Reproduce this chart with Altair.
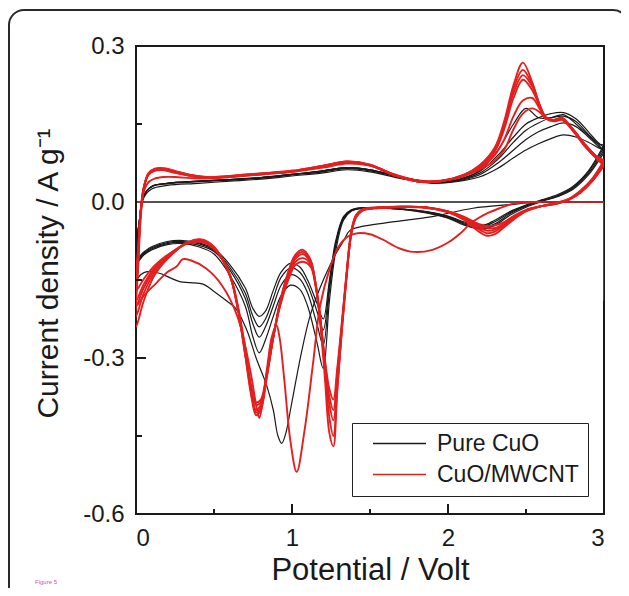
import altair as alt
import pandas as pd

MATERIALS = ["Pure CuO", "CuO/MWCNT"]
COLORS = ["#1a1a1a", "#e41f1f"]

# ---------------- Pure CuO ----------------
# cathodic sweep grid (3 V -> 0 V) shared by cycles 2-5
BC_X = [3.0, 2.9, 2.8, 2.7, 2.6, 2.5, 2.4, 2.3, 2.22, 2.1,
        2.0, 1.8, 1.6, 1.45, 1.38, 1.33, 1.28, 1.24, 1.2, 1.16,
        1.1, 1.05, 0.99, 0.93, 0.88, 0.83, 0.79, 0.75, 0.7, 0.6,
        0.5, 0.4, 0.3, 0.2, 0.1, 0.05, 0.0]
# anodic sweep grid (0 V -> 3 V)
BA_X = [0.0, 0.02, 0.05, 0.1, 0.2, 0.4, 0.6, 0.8, 1.0, 1.2,
        1.35, 1.5, 1.7, 1.9, 2.05, 2.2, 2.32, 2.42, 2.5, 2.58,
        2.66, 2.74, 2.82, 2.9, 2.96, 3.0]

B1C_X = [3.0, 2.8, 2.55, 2.4, 2.16, 1.9, 1.6, 1.45, 1.37, 1.33,
         1.28, 1.24, 1.18, 1.115, 1.06, 1.03, 0.99, 0.96, 0.934, 0.91,
         0.88, 0.84, 0.77, 0.71, 0.64, 0.58, 0.5, 0.43, 0.35, 0.28,
         0.22, 0.15, 0.07, 0.03, 0.0]
B1C_Y = [0.0, 0.0, -0.001, -0.005, -0.012, -0.028, -0.04, -0.047, -0.055, -0.075,
         -0.1, -0.124, -0.165, -0.22, -0.29, -0.336, -0.4, -0.445, -0.464, -0.45,
         -0.4, -0.355, -0.3, -0.246, -0.205, -0.19, -0.172, -0.158, -0.155, -0.153,
         -0.146, -0.137, -0.134, -0.14, -0.15]
B1A_Y = [-0.15, -0.05, 0.008, 0.025, 0.032, 0.036, 0.04, 0.044, 0.05, 0.056,
         0.062, 0.058, 0.045, 0.036, 0.039, 0.048, 0.065, 0.085, 0.1, 0.112,
         0.122, 0.129, 0.125, 0.115, 0.105, 0.1]

B2C_Y = [0.11, 0.06, 0.03, 0.014, 0.004, -0.006, -0.018, -0.035, -0.045, -0.038,
         -0.027, -0.016, -0.012, -0.012, -0.018, -0.035, -0.095, -0.19, -0.32, -0.27,
         -0.2, -0.168, -0.16, -0.18, -0.22, -0.265, -0.29, -0.26, -0.2, -0.14,
         -0.1, -0.086, -0.08, -0.082, -0.092, -0.102, -0.118]
B3C_Y = [0.105, 0.058, 0.028, 0.012, 0.003, -0.007, -0.02, -0.038, -0.047, -0.04,
         -0.028, -0.016, -0.012, -0.012, -0.017, -0.032, -0.085, -0.17, -0.275, -0.235,
         -0.175, -0.148, -0.14, -0.16, -0.2, -0.24, -0.26, -0.235, -0.185, -0.13,
         -0.095, -0.083, -0.078, -0.08, -0.09, -0.1, -0.115]
B4C_Y = [0.1, 0.055, 0.026, 0.011, 0.002, -0.008, -0.022, -0.042, -0.05, -0.042,
         -0.03, -0.017, -0.012, -0.011, -0.016, -0.03, -0.08, -0.16, -0.246, -0.21,
         -0.16, -0.135, -0.127, -0.145, -0.185, -0.225, -0.24, -0.22, -0.175, -0.125,
         -0.093, -0.08, -0.076, -0.078, -0.088, -0.098, -0.112]
B5C_Y = [0.095, 0.052, 0.024, 0.01, 0.001, -0.01, -0.025, -0.045, -0.052, -0.044,
         -0.031, -0.018, -0.012, -0.011, -0.015, -0.028, -0.075, -0.15, -0.225, -0.195,
         -0.15, -0.125, -0.118, -0.135, -0.17, -0.21, -0.22, -0.205, -0.165, -0.12,
         -0.09, -0.078, -0.074, -0.076, -0.086, -0.096, -0.11]

B2A_Y = [-0.118, -0.04, 0.012, 0.03, 0.036, 0.04, 0.043, 0.047, 0.053, 0.06,
         0.066, 0.062, 0.048, 0.038, 0.042, 0.06, 0.1, 0.15, 0.18, 0.162,
         0.162, 0.168, 0.15, 0.128, 0.112, 0.11]
B3A_Y = [-0.115, -0.04, 0.012, 0.03, 0.036, 0.04, 0.043, 0.047, 0.053, 0.06,
         0.066, 0.062, 0.048, 0.038, 0.042, 0.058, 0.09, 0.125, 0.15, 0.162,
         0.17, 0.172, 0.16, 0.135, 0.115, 0.105]
B4A_Y = [-0.112, -0.04, 0.012, 0.029, 0.035, 0.039, 0.042, 0.046, 0.052, 0.058,
         0.064, 0.06, 0.047, 0.037, 0.04, 0.052, 0.075, 0.1, 0.12, 0.135,
         0.145, 0.152, 0.145, 0.125, 0.108, 0.1]
B5A_Y = [-0.11, -0.04, 0.012, 0.03, 0.036, 0.04, 0.043, 0.047, 0.053, 0.06,
         0.066, 0.062, 0.048, 0.038, 0.041, 0.055, 0.082, 0.115, 0.138, 0.152,
         0.162, 0.165, 0.155, 0.13, 0.112, 0.095]

# ---------------- CuO/MWCNT ----------------
RC_X = [3.0, 2.92, 2.85, 2.78, 2.7, 2.6, 2.5, 2.42, 2.35, 2.3,
        2.25, 2.18, 2.1, 2.0, 1.85, 1.7, 1.55, 1.45, 1.41, 1.38,
        1.35, 1.32, 1.29, 1.265, 1.24, 1.21, 1.18, 1.15, 1.12, 1.07,
        1.02, 0.97, 0.92, 0.88, 0.84, 0.8, 0.77, 0.74, 0.7, 0.65,
        0.6, 0.5, 0.42, 0.33, 0.22, 0.12, 0.05, 0.0]
RA_X = [0.0, 0.015, 0.03, 0.05, 0.08, 0.12, 0.18, 0.25, 0.35, 0.45,
        0.6, 0.8, 1.0, 1.2, 1.35, 1.5, 1.65, 1.8, 1.95, 2.1,
        2.2, 2.3, 2.36, 2.42, 2.48, 2.54, 2.59, 2.63, 2.68, 2.73,
        2.8, 2.88, 2.95, 3.0]

R1C_X = [2.6, 2.5, 2.42, 2.33, 2.25, 2.15, 2.08, 2.0, 1.9, 1.78,
         1.68, 1.58, 1.5, 1.42, 1.36, 1.3, 1.24, 1.18, 1.135, 1.08,
         1.03, 0.99, 0.95, 0.92, 0.9, 0.87, 0.84, 0.81, 0.79, 0.77,
         0.73, 0.65, 0.55, 0.45, 0.35, 0.3, 0.26, 0.2, 0.13, 0.05,
         0.0]
R1C_Y = [0.0, -0.001, -0.003, -0.012, -0.022, -0.04, -0.06, -0.078, -0.092, -0.096,
         -0.088, -0.072, -0.062, -0.06, -0.066, -0.085, -0.13, -0.2, -0.31, -0.44,
         -0.519, -0.46, -0.34, -0.26, -0.237, -0.26, -0.32, -0.39, -0.415, -0.39,
         -0.32, -0.22, -0.16, -0.128, -0.112, -0.11, -0.124, -0.135, -0.156, -0.18,
         -0.2]
R1A_Y = [-0.2, -0.1, -0.02, 0.02, 0.038, 0.045, 0.048, 0.048, 0.046, 0.045,
         0.048, 0.053, 0.058, 0.066, 0.074, 0.07, 0.054, 0.042, 0.041, 0.05,
         0.062, 0.08, 0.1, 0.14, 0.17, 0.18, 0.172, 0.16, 0.158, 0.16,
         0.14, 0.11, 0.088, 0.078]

R2C_Y = [0.07, 0.038, 0.018, 0.005, -0.003, -0.008, -0.015, -0.027, -0.04, -0.045,
         -0.046, -0.04, -0.028, -0.018, -0.011, -0.01, -0.012, -0.017, -0.03, -0.062,
         -0.14, -0.23, -0.32, -0.38, -0.36, -0.3, -0.22, -0.16, -0.125, -0.115,
         -0.122, -0.155, -0.205, -0.26, -0.325, -0.38, -0.385, -0.355, -0.28, -0.195,
         -0.138, -0.09, -0.077, -0.08, -0.098, -0.122, -0.148, -0.17]
R3C_Y = [0.072, 0.039, 0.019, 0.005, -0.003, -0.008, -0.016, -0.029, -0.043, -0.05,
         -0.05, -0.043, -0.029, -0.018, -0.01, -0.009, -0.011, -0.016, -0.029, -0.061,
         -0.14, -0.235, -0.33, -0.4, -0.375, -0.305, -0.22, -0.157, -0.12, -0.108,
         -0.116, -0.15, -0.202, -0.26, -0.328, -0.385, -0.39, -0.36, -0.285, -0.198,
         -0.139, -0.089, -0.075, -0.079, -0.099, -0.126, -0.158, -0.19]
R4C_Y = [0.075, 0.04, 0.02, 0.006, -0.002, -0.008, -0.016, -0.03, -0.045, -0.053,
         -0.055, -0.045, -0.03, -0.018, -0.01, -0.009, -0.011, -0.016, -0.028, -0.06,
         -0.145, -0.245, -0.35, -0.42, -0.39, -0.31, -0.22, -0.155, -0.118, -0.1,
         -0.11, -0.145, -0.2, -0.26, -0.33, -0.39, -0.4, -0.365, -0.29, -0.2,
         -0.14, -0.088, -0.074, -0.078, -0.1, -0.13, -0.165, -0.2]
R5C_Y = [0.078, 0.042, 0.021, 0.006, -0.002, -0.008, -0.017, -0.032, -0.048, -0.057,
         -0.06, -0.049, -0.032, -0.019, -0.01, -0.009, -0.011, -0.015, -0.027, -0.058,
         -0.14, -0.245, -0.36, -0.45, -0.415, -0.32, -0.225, -0.155, -0.115, -0.096,
         -0.106, -0.142, -0.198, -0.26, -0.333, -0.395, -0.405, -0.37, -0.292, -0.2,
         -0.14, -0.087, -0.073, -0.078, -0.102, -0.135, -0.175, -0.22]
R6C_Y = [0.08, 0.043, 0.022, 0.007, -0.001, -0.008, -0.018, -0.034, -0.051, -0.062,
         -0.065, -0.053, -0.034, -0.02, -0.01, -0.009, -0.01, -0.014, -0.025, -0.055,
         -0.135, -0.24, -0.365, -0.47, -0.445, -0.335, -0.23, -0.155, -0.112, -0.092,
         -0.102, -0.14, -0.196, -0.26, -0.335, -0.4, -0.41, -0.375, -0.295, -0.202,
         -0.14, -0.086, -0.072, -0.078, -0.104, -0.14, -0.19, -0.24]

R2A_Y = [-0.17, -0.085, -0.015, 0.028, 0.052, 0.06, 0.061, 0.056, 0.05, 0.046,
         0.048, 0.053, 0.058, 0.068, 0.076, 0.07, 0.052, 0.04, 0.04, 0.05,
         0.064, 0.09, 0.12, 0.165, 0.195, 0.2, 0.178, 0.16, 0.155, 0.158,
         0.137, 0.106, 0.084, 0.07]
R3A_Y = [-0.19, -0.095, -0.018, 0.028, 0.053, 0.061, 0.062, 0.057, 0.05, 0.047,
         0.049, 0.054, 0.059, 0.069, 0.077, 0.071, 0.052, 0.04, 0.04, 0.05,
         0.066, 0.097, 0.14, 0.2, 0.235, 0.215, 0.182, 0.162, 0.156, 0.159,
         0.138, 0.107, 0.085, 0.072]
R4A_Y = [-0.2, -0.1, -0.02, 0.028, 0.054, 0.062, 0.063, 0.058, 0.051, 0.047,
         0.049, 0.054, 0.059, 0.069, 0.077, 0.071, 0.052, 0.04, 0.04, 0.051,
         0.068, 0.1, 0.145, 0.21, 0.244, 0.222, 0.184, 0.162, 0.157, 0.16,
         0.139, 0.108, 0.086, 0.075]
R5A_Y = [-0.22, -0.11, -0.025, 0.027, 0.055, 0.063, 0.064, 0.059, 0.052, 0.048,
         0.05, 0.055, 0.06, 0.07, 0.078, 0.072, 0.053, 0.04, 0.04, 0.052,
         0.069, 0.103, 0.15, 0.218, 0.254, 0.225, 0.185, 0.162, 0.158, 0.161,
         0.14, 0.11, 0.088, 0.078]
R6A_Y = [-0.24, -0.12, -0.03, 0.025, 0.055, 0.064, 0.065, 0.06, 0.052, 0.048,
         0.05, 0.055, 0.06, 0.07, 0.078, 0.072, 0.053, 0.04, 0.04, 0.052,
         0.07, 0.105, 0.155, 0.225, 0.268, 0.23, 0.185, 0.16, 0.158, 0.162,
         0.14, 0.11, 0.088, 0.08]

# first-scan trace of the composite at the 3 V end
ART_X = [2.6, 3.0, 3.0]
ART_Y = [0.0, 0.0, -0.19]

X_LABELS = [0, 1, 2, 3]
Y_LABELS = [-0.6, -0.3, 0.0, 0.3]
X_MAJOR = [1.0, 2.0]
X_MINOR = [0.5, 1.5, 2.5]
Y_MAJOR = [-0.3]
Y_MINOR = [-0.45, -0.15, 0.15]

rows = []


def add_cycle(name, material, cx, cy, ax, ay):
    assert len(cx) == len(cy) and len(ax) == len(ay), name
    xs = list(cx) + list(ax[1:])
    ys = list(cy) + list(ay[1:])
    for i, (a, b) in enumerate(zip(xs, ys)):
        rows.append({"x": a, "y": b, "material": material, "cycle": name, "order": i})


add_cycle("b1", "Pure CuO", B1C_X, B1C_Y, BA_X, B1A_Y)
add_cycle("b2", "Pure CuO", BC_X, B2C_Y, BA_X, B2A_Y)
add_cycle("b3", "Pure CuO", BC_X, B3C_Y, BA_X, B3A_Y)
add_cycle("b4", "Pure CuO", BC_X, B4C_Y, BA_X, B4A_Y)
add_cycle("b5", "Pure CuO", BC_X, B5C_Y, BA_X, B5A_Y)
add_cycle("r1", "CuO/MWCNT", R1C_X, R1C_Y, RA_X, R1A_Y)
add_cycle("r2", "CuO/MWCNT", RC_X, R2C_Y, RA_X, R2A_Y)
add_cycle("r3", "CuO/MWCNT", RC_X, R3C_Y, RA_X, R3A_Y)
add_cycle("r4", "CuO/MWCNT", RC_X, R4C_Y, RA_X, R4A_Y)
add_cycle("r5", "CuO/MWCNT", RC_X, R5C_Y, RA_X, R5A_Y)
add_cycle("r6", "CuO/MWCNT", RC_X, R6C_Y, RA_X, R6A_Y)

df = pd.DataFrame(rows)
df_black = df[df.material == "Pure CuO"]
df_red = df[df.material == "CuO/MWCNT"]
df_art = pd.DataFrame({"x": ART_X, "y": ART_Y, "order": list(range(len(ART_X)))})

FONT = "Liberation Sans"
TXT = "#1a1a1a"

color = alt.Color(
    "material:N",
    scale=alt.Scale(domain=MATERIALS, range=COLORS),
    legend=alt.Legend(
        title=None, orient="none", legendX=216, legendY=377,
        symbolType="M-3,0H3", symbolSize=312, symbolStrokeWidth=1.6,
        labelFontSize=23, labelFont=FONT, labelColor=TXT,
        padding=9, symbolOffset=27, labelOffset=26, rowPadding=7,
        strokeColor="#222", fillColor="white",
    ),
)

x_enc = alt.X(
    "x:Q",
    scale=alt.Scale(domain=[0, 3], nice=False, zero=False),
    axis=alt.Axis(
        values=X_LABELS, format="d", title="Potential / Volt",
        ticks=False, tickSize=0, domain=False, grid=False,
        labelFontSize=24, labelFont=FONT, labelColor=TXT,
        labelPadding=31, labelBaseline="alphabetic",
        titleFontSize=31, titleFont=FONT, titleFontWeight="normal", titleColor=TXT,
        titleBaseline="alphabetic", titleY=65,
    ),
)
y_enc = alt.Y(
    "y:Q",
    scale=alt.Scale(domain=[-0.6, 0.3], nice=False, zero=False),
    axis=alt.Axis(
        values=Y_LABELS, format=".1f",
        labelExpr="replace(datum.label, '\u2212', '-')",
        title="Current density / A g\u207b\u00b9",
        ticks=False, tickSize=0, domain=False, grid=False,
        labelFontSize=24, labelFont=FONT, labelColor=TXT, labelPadding=12,
        titleFontSize=30, titleFont=FONT, titleFontWeight="normal", titleColor=TXT,
        titleBaseline="alphabetic", titleX=-79, titleY=227, titleAngle=270,
        titleAlign="center",
    ),
)

black = alt.Chart(df_black).mark_line(
    interpolate="catmull-rom", strokeWidth=1.2, clip=True
).encode(x=x_enc, y=y_enc, color=color, detail="cycle:N", order="order:Q")

zero_line = alt.Chart(pd.DataFrame({"y": [0.0]})).mark_rule(
    color=TXT, strokeWidth=1.5
).encode(y=y_enc)

red = alt.Chart(df_red).mark_line(
    interpolate="catmull-rom", strokeWidth=1.9, clip=True
).encode(x=x_enc, y=y_enc, color=color, detail="cycle:N", order="order:Q")

art = alt.Chart(df_art).mark_line(
    color=COLORS[1], strokeWidth=1.5, interpolate="linear", clip=True
).encode(x=x_enc, y=y_enc, order="order:Q")

xt_major = alt.Chart(pd.DataFrame({"x": X_MAJOR})).mark_rule(color=TXT, strokeWidth=2).encode(
    x=x_enc, y=alt.value(468), y2=alt.value(458))
xt_minor = alt.Chart(pd.DataFrame({"x": X_MINOR})).mark_rule(color=TXT, strokeWidth=2).encode(
    x=x_enc, y=alt.value(468), y2=alt.value(463))
yt_major = alt.Chart(pd.DataFrame({"y": Y_MAJOR})).mark_rule(color=TXT, strokeWidth=2).encode(
    y=y_enc, x=alt.value(0), x2=alt.value(10))
yt_minor = alt.Chart(pd.DataFrame({"y": Y_MINOR})).mark_rule(color=TXT, strokeWidth=2).encode(
    y=y_enc, x=alt.value(0), x2=alt.value(6))

frame = alt.Chart(pd.DataFrame({"a": [0]})).mark_rect(
    filled=False, stroke="#2a2a2a", strokeWidth=2, cornerRadius=15
).encode(x=alt.value(-127), x2=alt.value(492), y=alt.value(-36), y2=alt.value(620))

fig_label = alt.Chart(pd.DataFrame({"a": [0]})).mark_text(
    text="Figure 5", fontSize=6, color="#cc4fa6", align="left", baseline="alphabetic", font=FONT
).encode(x=alt.value(-101), y=alt.value(538))

chart = alt.layer(
    black, zero_line, red, art, xt_major, xt_minor, yt_major, yt_minor, frame, fig_label
).properties(
    width=468, height=468,
    autosize=alt.AutoSizeParams(type="none"),
    padding={"left": 128, "top": 38, "right": 17, "bottom": 74},
).configure_view(
    stroke=TXT, strokeWidth=2
)

chart.save("out.html", embed_options={"renderer": "svg", "actions": False})
